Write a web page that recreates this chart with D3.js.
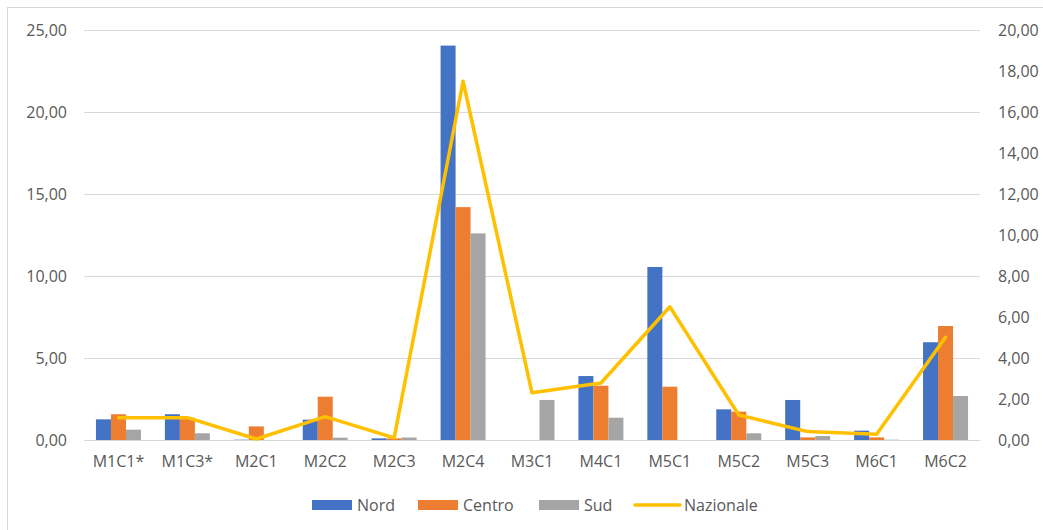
<!DOCTYPE html>
<html>
<head>
<meta charset="utf-8">
<script src="https://cdn.jsdelivr.net/npm/d3@7"></script>
<style>
  html, body { margin: 0; padding: 0; background: #ffffff; }
  svg { display: block; }
  text { font-family: "Open Sans", sans-serif; fill: #595959; }
</style>
</head>
<body>
<svg id="chart" width="1043" height="530"></svg>
<script>
const categories = ["M1C1*", "M1C3*", "M2C1", "M2C2", "M2C3", "M2C4", "M3C1", "M4C1", "M5C1", "M5C2", "M5C3", "M6C1", "M6C2"];
const nord     = [1.26, 1.57, 0.02, 1.24, 0.10, 24.05, 0.00, 3.90, 10.55, 1.87, 2.44, 0.57, 5.96];
const centro   = [1.57, 1.36, 0.83, 2.64, 0.10, 14.20, 0.00, 3.31, 3.25, 1.73, 0.16, 0.16, 6.95];
const sud      = [0.63, 0.41, 0.00, 0.14, 0.15, 12.60, 2.44, 1.36, 0.00, 0.41, 0.24, 0.02, 2.68];
const nazionale = [1.09, 1.09, 0.05, 1.14, 0.10, 17.50, 2.30, 2.78, 6.50, 1.22, 0.41, 0.28, 5.01];
const leftTicks  = [0, 5, 10, 15, 20, 25];
const rightTicks = [0, 2, 4, 6, 8, 10, 12, 14, 16, 18, 20];
const seriesNames = ["Nord", "Centro", "Sud"];
const seriesColors = ["#4472C4", "#ED7D31", "#A5A5A5"];
const lineName = "Nazionale";
const lineColor = "#FFC000";

const svg = d3.select("#chart");
const W = 1043, H = 530;
const plot = { left: 84, right: 980, top: 30, bottom: 440 };

// frame
svg.append("rect").attr("x", 7.5).attr("y", 7.5).attr("width", W + 10).attr("height", H + 10)
  .attr("fill", "none").attr("stroke", "#d9d9d9").attr("stroke-width", 1);

const x = d3.scaleBand().domain(categories).range([plot.left, plot.right]).padding(0);
const inner = d3.scaleBand().domain(seriesNames).range([0, 45]).padding(0);
const yL = d3.scaleLinear().domain([0, 25]).range([plot.bottom, plot.top]);
const yR = d3.scaleLinear().domain([0, 20]).range([plot.bottom, plot.top]);

// gridlines
svg.append("g").selectAll("line").data(leftTicks).join("line")
  .attr("x1", plot.left).attr("x2", plot.right)
  .attr("y1", d => Math.round(yL(d)) + 0.5).attr("y2", d => Math.round(yL(d)) + 0.5)
  .attr("stroke", "#d9d9d9").attr("stroke-width", 1);

// left axis
const fmt = d => d.toFixed(2).replace(".", ",");
const gL = svg.append("g").attr("transform", `translate(${plot.left - 17},0)`)
  .call(d3.axisLeft(yL).tickValues(leftTicks).tickFormat(fmt).tickSize(0).tickPadding(0));
gL.select(".domain").remove();
gL.selectAll("text").style("font-size", "16px").style("font-family", "'Open Sans', sans-serif").attr("fill", "#595959");

// right axis
const gR = svg.append("g").attr("transform", `translate(${plot.right + 18},0)`)
  .call(d3.axisRight(yR).tickValues(rightTicks).tickFormat(fmt).tickSize(0).tickPadding(0));
gR.select(".domain").remove();
gR.selectAll("text").style("font-size", "16px").style("font-family", "'Open Sans', sans-serif").attr("fill", "#595959");

// bars
const allSeries = [nord, centro, sud];
const groups = svg.append("g");
allSeries.forEach((vals, si) => {
  groups.append("g").selectAll("rect").data(categories).join("rect")
    .attr("x", (c) => x(c) + x.bandwidth() / 2 - 22.5 + inner(seriesNames[si]))
    .attr("width", inner.bandwidth())
    .attr("y", (c, i) => yL(vals[i]))
    .attr("height", (c, i) => plot.bottom - yL(vals[i]))
    .attr("fill", seriesColors[si]);
});

// x axis
const gX = svg.append("g").attr("transform", `translate(0,${plot.bottom})`)
  .call(d3.axisBottom(x).tickSize(0).tickPadding(16));
gX.select(".domain").attr("stroke", "#d9d9d9");
gX.selectAll("text").style("font-size", "16px").style("font-family", "'Open Sans', sans-serif").attr("fill", "#595959");

// line
const line = d3.line()
  .x((d, i) => x(categories[i]) + x.bandwidth() / 2)
  .y(d => yR(d));
svg.append("path").datum(nazionale).attr("d", line)
  .attr("fill", "none").attr("stroke", lineColor).attr("stroke-width", 3.5)
  .attr("stroke-linejoin", "round").attr("stroke-linecap", "round");

// legend
const legendY = 505;
const legendItems = [
  { name: seriesNames[0], color: seriesColors[0], type: "rect", x: 312 },
  { name: seriesNames[1], color: seriesColors[1], type: "rect", x: 418 },
  { name: seriesNames[2], color: seriesColors[2], type: "rect", x: 539 },
  { name: lineName, color: lineColor, type: "line", x: 635 }
];
const lg = svg.append("g");
legendItems.forEach(it => {
  if (it.type === "rect") {
    lg.append("rect").attr("x", it.x).attr("y", legendY - 5).attr("width", 40).attr("height", 10).attr("fill", it.color);
  } else {
    lg.append("line").attr("x1", it.x).attr("x2", it.x + 45).attr("y1", legendY).attr("y2", legendY)
      .attr("stroke", it.color).attr("stroke-width", 3.5).attr("stroke-linecap", "round");
  }
  lg.append("text").attr("x", it.x + (it.type === "rect" ? 45 : 49)).attr("y", legendY).attr("dy", "0.35em")
    .style("font-size", "16px").text(it.name);
});
</script>
</body>
</html>
